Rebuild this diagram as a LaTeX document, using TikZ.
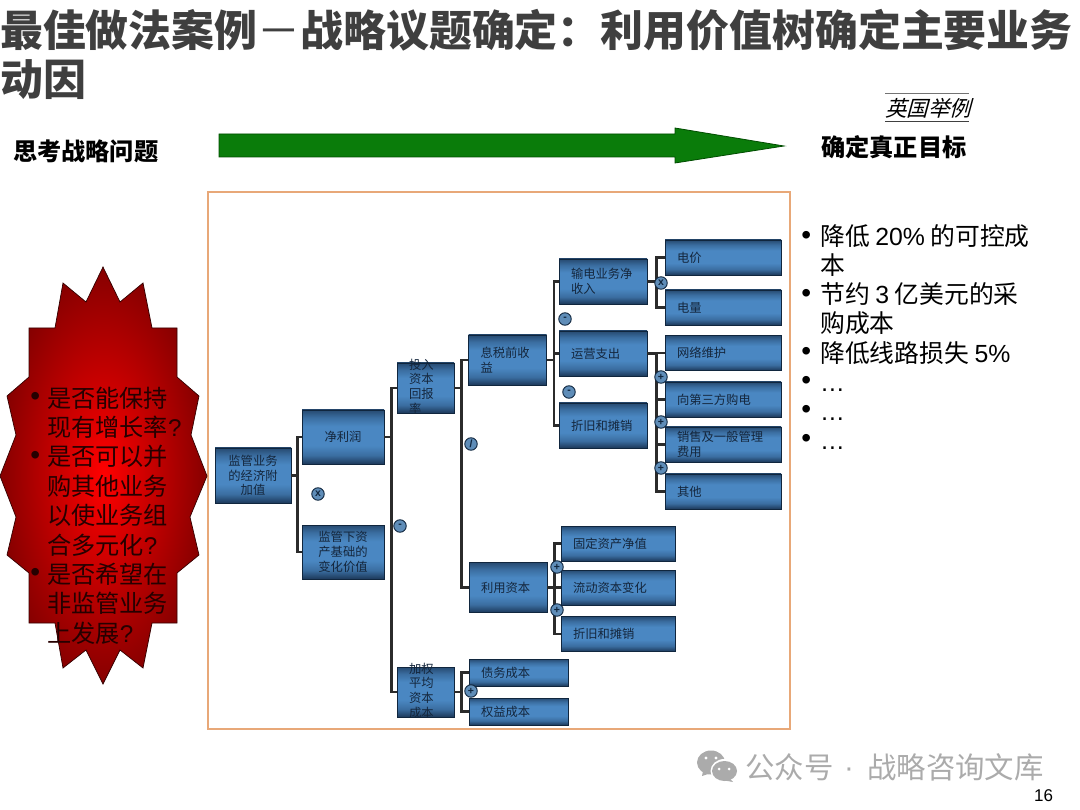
\documentclass[tikz,border=0pt]{standalone}
\usepackage{fontspec}
\usepackage{xcolor}
\setmainfont{Noto Sans CJK SC}
\newfontfamily\lat{Liberation Sans}
\newfontfamily\cjkslant[FakeSlant=0.27]{Noto Sans CJK SC}
\usetikzlibrary{positioning,calc}

\definecolor{titlegray}{HTML}{3F3F3F}
\definecolor{boxedge}{HTML}{10263E}
\definecolor{boxink}{HTML}{14263C}
\definecolor{opfill}{HTML}{5F8DB8}
\definecolor{framecol}{HTML}{E8A878}
\definecolor{arrowgreen}{HTML}{0A7C0A}
\definecolor{burstred}{HTML}{FF0000}
\definecolor{burstdark}{HTML}{860000}
\definecolor{markgray}{HTML}{ABABAB}
\definecolor{linkgray}{HTML}{2B2B2B}

\pgfdeclareverticalshading{boxshade}{100bp}{
  rgb(0bp)=(0.11,0.22,0.35); rgb(25bp)=(0.11,0.22,0.35); rgb(33bp)=(0.23,0.43,0.63);
  rgb(42bp)=(0.29,0.53,0.76); rgb(60bp)=(0.29,0.53,0.76); rgb(68bp)=(0.23,0.43,0.63);
  rgb(75bp)=(0.15,0.29,0.44); rgb(100bp)=(0.15,0.29,0.44)}

\newcommand{\fs}[2]{\fontsize{#1}{#2}\selectfont}
\newcommand{\overrun}[1]{\raisebox{-3pt}{\smash{\parbox[c]{33pt}{\raggedright #1}}}}
\newcommand{\bul}[1]{\llap{\smash{\raisebox{1.5pt}{\lat\fs{28}{28}•}}\hspace{#1}}}

\tikzset{
  bluebox/.style={draw=boxedge, line width=0.9pt, shading=boxshade, inner sep=0pt, text=boxink, font=\fs{12.3}{14.7}},
  rootbox/.style={bluebox, minimum width=76pt, minimum height=55pt, align=center},
  secondbox/.style={bluebox, minimum width=82pt, minimum height=54pt, align=center},
  ratiobox/.style={bluebox, minimum width=57pt, minimum height=50pt},
  midbox/.style={bluebox, text width=54pt, inner xsep=12pt, minimum height=50pt, align=left},
  costbox/.style={bluebox, text width=64pt, inner xsep=12pt, minimum height=45pt, align=left},
  leafbox/.style={bluebox, text width=92pt, inner xsep=12pt, minimum height=35pt, align=left},
  capbox/.style={bluebox, text width=90pt, inner xsep=12pt, minimum height=35pt, align=left},
  waccbox/.style={bluebox, text width=75pt, inner xsep=12pt, minimum height=27pt, align=left},
  opnode/.style={circle, draw=boxedge, fill=opfill, line width=0.9pt, minimum size=12.5pt, inner sep=0pt,
    text=boxedge, font=\lat\bfseries\fs{10.5}{10}},
  treelink/.style={draw=linkgray, line width=2.2pt},
  plain/.style={inner sep=0pt, anchor=west}
}

\begin{document}
\begin{tikzpicture}[x=1pt,y=-1pt]
\useasboundingbox (0,0) rectangle (1080,810);

\node[plain, text=titlegray, font=\bfseries\fs{42.9}{50}] (title) at (0,30) {最佳做法案例{\mdseries －}战略议题确定：利用价值树确定主要业务};
\node[plain, text=titlegray, font=\bfseries\fs{42.9}{50}] (titlerest) at (0,80) {动因};

\node[plain, font=\cjkslant\fs{21.5}{24}, inner xsep=0pt, inner ysep=3pt] (ukcase) at (885,108) {英国举例};
\draw[black!55, line width=0.8pt] ($(ukcase.west)+(0,-14.5)$) -- ($(ukcase.east)+(-2,-14.5)$);
\draw[black!75, line width=1pt] ($(ukcase.west)+(0,14)$) -- ($(ukcase.east)+(-2,14)$);

\node[plain, font=\bfseries\fs{24.2}{28}] (thinking) at (13,151) {思考战略问题};
\node[plain, font=\bfseries\fs{24.2}{28}] (target) at (821,147) {确定真正目标};
\draw[fill=arrowgreen, draw=black!70!green, line width=0.8pt] (219,134) -- (675,134) -- (675,128) -- (784,146) -- (675,163) -- (675,157) -- (219,157) -- cycle;

\draw[framecol, line width=1.3pt] (208,192) rectangle (790,729);

% burst with the questions
\shadedraw[inner color=burstred, outer color=burstdark, draw=black!80!red, line width=0.7pt]
  (103,267) -- (120,302) -- (143,283) -- (152,328) -- (177,328) -- (177,377) -- (199,396) -- (191,435)
  -- (207,476) -- (190,517) -- (199,555) -- (177,573) -- (177,623) -- (152,623) -- (143,668) -- (120,650)
  -- (103,684) -- (86,650) -- (63,668) -- (55,623) -- (29,623) -- (29,573) -- (7,555) -- (16,517)
  -- (0,476) -- (16,435) -- (7,396) -- (29,377) -- (29,328) -- (55,328) -- (63,283) -- (86,302) -- cycle;
\node[plain, align=left, text=black!85!red, font=\fs{24.2}{29.4}] (questions) at (47,515.5) {%
  \bul{7pt}是否能保持\\现有增长率{\lat ?}\\
  \bul{7pt}是否可以并\\购其他业务\\以使业务组\\合多元化{\lat ?}\\
  \bul{7pt}是否希望在\\非监管业务\\上发展{\lat ?}};

% value tree
\node[rootbox] (root) at (253,475.5) {监管业务\\的经济附\\加值};
\node[secondbox] (netprofit) at (343,437) {净利润};
\node[secondbox] (capvalue) at (343,552) {监管下资\\产基础的\\变化价值};
\node[ratiobox] (roic) at (425.5,388) {\overrun{投入\\资本\\回报\\率}};
\node[ratiobox] (wacc) at (425.5,692) {\overrun{加权\\平均\\资本\\成本}};
\node[midbox] (ebit) at (507.5,360) {息税前收\\益};
\node[midbox] (capital) at (508,587.5) {利用资本};
\node[costbox] (revenue) at (603,281.5) {输电业务净\\收入};
\node[costbox] (opex) at (603,353.5) {运营支出};
\node[costbox] (deprec) at (603,425.5) {折旧和摊销};
\node[leafbox] (price) at (723,257.5) {电价};
\node[leafbox] (volume) at (723,307.5) {电量};
\node[leafbox] (network) at (723,353) {网络维护};
\node[leafbox] (purchase) at (723,399.5) {向第三方购电};
\node[leafbox] (sga) at (723,444.5) {销售及一般管理\\费用};
\node[leafbox] (other) at (723,491.5) {其他};
\node[capbox] (fixed) at (618,543.5) {固定资产净值};
\node[capbox] (working) at (618,587.5) {流动资本变化};
\node[capbox] (deprectwo) at (618,634) {折旧和摊销};
\node[waccbox] (debt) at (518.5,672.5) {债务成本};
\node[waccbox] (equity) at (518.5,711.5) {权益成本};

\foreach \kid in {netprofit,capvalue} {\draw[treelink] (root.east) -- ++(6,0) |- (\kid.west);}
\foreach \kid in {roic,wacc} {\draw[treelink] (netprofit.east) -- ++(7,0) |- (\kid.west);}
\foreach \kid in {ebit,capital} {\draw[treelink] (roic.east) -- ++(7,0) |- (\kid.west);}
\foreach \kid in {revenue,opex,deprec} {\draw[treelink] (ebit.east) -- ++(7,0) |- (\kid.west);}
\foreach \kid in {price,volume} {\draw[treelink] (revenue.east) -- ++(9,0) |- (\kid.west);}
\foreach \kid in {network,purchase,sga,other} {\draw[treelink] (opex.east) -- ++(9,0) |- (\kid.west);}
\foreach \kid in {fixed,working,deprectwo} {\draw[treelink] (capital.east) -- ++(7,0) |- (\kid.west);}
\foreach \kid in {debt,equity} {\draw[treelink] (wacc.east) -- ++(7,0) |- (\kid.west);}

\node[opnode] (opa) at (318,494) {x};
\node[opnode] (opb) at (400,526) {-};
\node[opnode] (opc) at (471,444) {/};
\node[opnode] (opd) at (471,691) {+};
\node[opnode] (ope) at (565,319) {-};
\node[opnode] (opf) at (569,392) {-};
\node[opnode] (opg) at (661,283) {x};
\node[opnode] (oph) at (661,377) {+};
\node[opnode] (opi) at (661,422) {+};
\node[opnode] (opj) at (661,468) {+};
\node[opnode] (opk) at (557,567) {+};
\node[opnode] (opl) at (557,610) {+};

% goals on the right
\node[plain, align=left, font=\fs{24.8}{29.1}] (goals) at (820,337) {%
  \bul{9pt}降低 {\lat 20\%} 的可控成\\本\\
  \bul{9pt}节约 {\lat 3} 亿美元的采\\购成本\\
  \bul{9pt}降低线路损失 {\lat 5\%}\\
  \bul{9pt}{\lat …}\\
  \bul{9pt}{\lat …}\\
  \bul{9pt}{\lat …}};

% account mark and page number
\fill[markgray] (711,762.5) ellipse (14 and 12);
\fill[markgray] (703,771) -- (702,776) -- (711,773) -- cycle;
\fill[white] (724.5,771) ellipse (14 and 12);
\fill[markgray] (724.5,771) ellipse (12.5 and 10);
\fill[markgray] (729,778) -- (733,782) -- (722,780) -- cycle;
\fill[white] (706,758) circle (1.7) (716,758) circle (1.7) (719,769) circle (1.5) (729,769) circle (1.5);
\node[plain, text=markgray, font=\fs{29.4}{32}] (account) at (745,767) {公众号};
\node[plain, text=markgray, font=\lat\fs{29.4}{32}] (dot) at (844,773) {·};
\node[plain, text=markgray, font=\fs{29.4}{32}] (library) at (867,767) {战略咨询文库};
\node[plain, font=\lat\fs{17}{20}] (page) at (1034,796) {16};
\end{tikzpicture}
\end{document}
